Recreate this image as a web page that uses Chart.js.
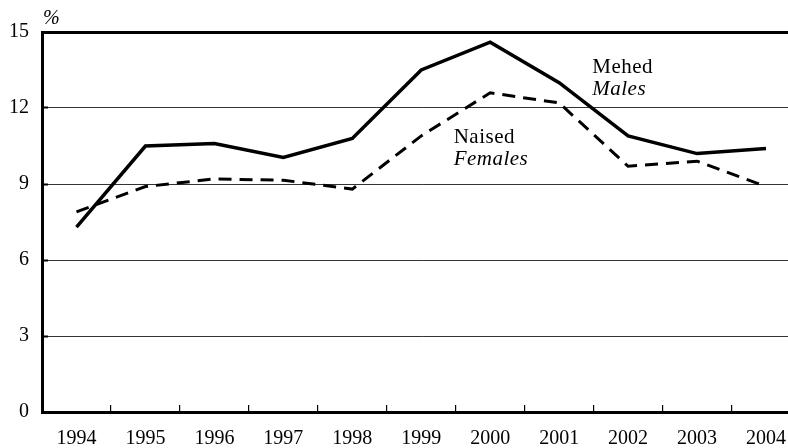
<!DOCTYPE html>
<html lang="et">
<head>
    <meta charset="UTF-8">
    <title>Mehed / Naised</title>
    <script src="https://cdn.jsdelivr.net/npm/chart.js"></script>
    <style>
        body { margin: 0; overflow: hidden; background: #fff; }
        canvas { display: block; }
    </style>
</head>
<body>
    <canvas id="myChart" width="808" height="448"></canvas>
    <script>
        // andmed / data
        const years = ['1994', '1995', '1996', '1997', '1998', '1999', '2000', '2001', '2002', '2003', '2004'];
        const males = [7.3, 10.5, 10.6, 10.05, 10.8, 13.5, 14.6, 13.0, 10.9, 10.2, 10.4];
        const females = [7.9, 8.9, 9.2, 9.15, 8.8, 10.9, 12.6, 12.2, 9.7, 9.9, 8.9];
        const yTicks = [0, 3, 6, 9, 12, 15];

        const serif = '"Liberation Serif", "Times New Roman", serif';

        // text labels placed in data units (category index, value)
        const notes = [
            { text: 'Mehed', italic: false, x: 7.48, y: 13.37 },
            { text: 'Males', italic: true, x: 7.48, y: 12.5 },
            { text: 'Naised', italic: false, x: 5.47, y: 10.6 },
            { text: 'Females', italic: true, x: 5.47, y: 9.75 }
        ];

        const notesPlugin = {
            id: 'notes',
            afterDatasetsDraw(chart) {
                const ctx = chart.ctx;
                const xs = chart.scales.x, ys = chart.scales.y;
                ctx.save();
                ctx.fillStyle = '#000';
                ctx.textAlign = 'left';
                ctx.textBaseline = 'alphabetic';
                ctx.letterSpacing = '0.5px';
                notes.forEach(n => {
                    ctx.font = (n.italic ? 'italic ' : '') + '21px ' + serif;
                    ctx.fillText(n.text, xs.getPixelForValue(n.x), ys.getPixelForValue(n.y));
                });
                // unit label
                ctx.letterSpacing = '0px';
                ctx.font = 'italic 20px ' + serif;
                ctx.fillText('%', chart.chartArea.left + 1, chart.chartArea.top - 8);
                ctx.restore();
            }
        };

        const ctx = document.getElementById('myChart').getContext('2d');
        const myChart = new Chart(ctx, {
            type: 'line',
            data: {
                labels: years,
                datasets: [{
                    label: 'Mehed',
                    data: males,
                    borderColor: '#000',
                    borderWidth: 3.5,
                    pointRadius: 0,
                    tension: 0,
                    fill: false
                }, {
                    label: 'Naised',
                    data: females,
                    borderColor: '#000',
                    borderWidth: 3,
                    borderDash: [13, 8],
                    pointRadius: 0,
                    tension: 0,
                    fill: false
                }]
            },
            options: {
                responsive: false,
                animation: false,
                devicePixelRatio: 1,
                layout: { padding: { top: 32, left: 0, right: 0, bottom: 0 } },
                plugins: {
                    legend: { display: false },
                    tooltip: { enabled: false }
                },
                scales: {
                    x: {
                        offset: true,
                        afterFit(scale) { scale.height = 36; },
                        grid: {
                            offset: true,
                            drawOnChartArea: false,
                            drawTicks: true,
                            tickLength: -7,
                            color: '#000',
                            lineWidth: 1.2
                        },
                        border: { display: true, color: '#000', width: 3 },
                        ticks: {
                            color: '#000',
                            font: { family: serif, size: 20 },
                            padding: 22,
                            maxRotation: 0
                        }
                    },
                    y: {
                        min: 0,
                        max: 15,
                        afterFit(scale) { scale.width = 42; },
                        afterBuildTicks(scale) {
                            scale.ticks = yTicks.map(v => ({ value: v }));
                        },
                        grid: {
                            color: c => (c.tick && c.tick.value === 15 ? '#000' : '#333'),
                            lineWidth: c => (c.tick && c.tick.value === 15 ? 3 : 1),
                            drawTicks: true,
                            tickLength: -6,
                            tickWidth: 2,
                            tickColor: '#000'
                        },
                        border: { display: true, color: '#000', width: 3 },
                        ticks: {
                            color: '#000',
                            font: { family: serif, size: 20 },
                            padding: 19
                        }
                    }
                }
            },
            plugins: [notesPlugin]
        });
    </script>
</body>
</html>
